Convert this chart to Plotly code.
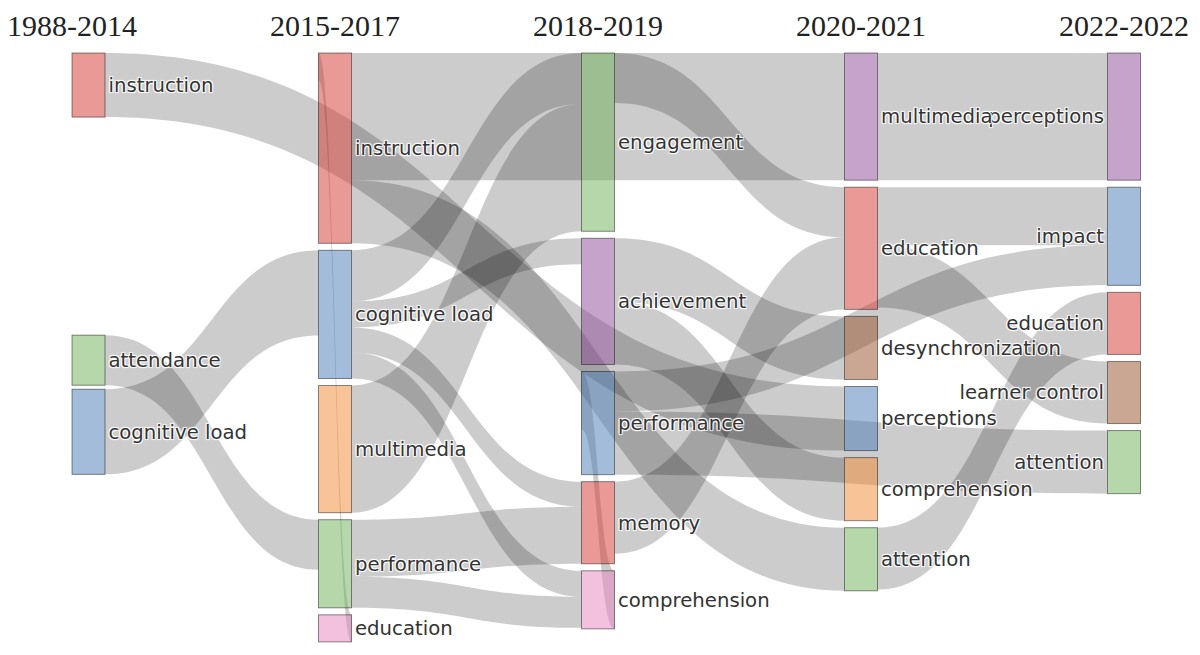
import plotly.graph_objects as go

# ==========================================
# DATA
# ==========================================

periods = ["1988-2014", "2015-2017", "2018-2019", "2020-2021", "2022-2022"]

labels = [
    "instruction", "attendance", "cognitive load",
    "instruction", "cognitive load", "multimedia", "performance", "education",
    "engagement", "achievement", "performance", "memory", "comprehension",
    "multimedia", "education", "desynchronization", "perceptions", "comprehension", "attention",
    "perceptions", "impact", "education", "learner control", "attention",
]
node_period = [0, 0, 0,
               1, 1, 1, 1, 1,
               2, 2, 2, 2, 2,
               3, 3, 3, 3, 3, 3,
               4, 4, 4, 4, 4]

source = [0, 1, 2, 7, 3, 3, 4, 4, 4, 4, 5, 6, 6, 12, 8, 11, 9, 9, 10, 10, 14, 14, 18, 13]
target = [16, 6, 4, 3, 13, 18, 8, 9, 11, 12, 8, 11, 12, 10, 14, 14, 15, 17, 20, 23, 20, 22, 21, 19]
value = [64, 50, 85, 27, 127, 63, 51, 26, 25, 26, 127, 57, 31, 58, 50, 72, 63, 63, 40, 63, 58, 62, 62, 127]

# ==========================================
# STYLE
# ==========================================

palette = {
    "red": "rgba(211,53,45,0.5)", "blue": "rgba(71,121,179,0.5)",
    "green": "rgba(107,175,83,0.5)", "purple": "rgba(139,71,151,0.5)",
    "orange": "rgba(239,135,47,0.5)", "brown": "rgba(147,79,39,0.5)",
    "pink": "rgba(229,131,187,0.5)",
}
node_color_names = [
    "red", "green", "blue",
    "red", "blue", "orange", "green", "pink",
    "green", "purple", "blue", "red", "pink",
    "purple", "red", "brown", "blue", "orange", "green",
    "purple", "blue", "red", "brown", "green",
]

FIG_W, FIG_H = 1200, 655
MARGIN = dict(l=64, r=84, t=0, b=0)
THICK = 33       # node thickness, px
PAD = 4          # node padding handed to plotly
GAP = 7          # gap between stacked nodes of one period, px
TOP = 45         # first node of each period starts this far below the top, px
PLOT_W = FIG_W - MARGIN["l"] - MARGIN["r"]
PLOT_H = FIG_H - MARGIN["t"] - MARGIN["b"]

# ==========================================
# LAYOUT HELPERS (same node scale as d3-sankey)
# ==========================================

n = len(labels)
v_in = [0] * n
v_out = [0] * n
outs = [[] for _ in range(n)]
for s, t, v in zip(source, target, value):
    v_out[s] += v
    v_in[t] += v
    outs[s].append(t)
size = [max(a, b) for a, b in zip(v_in, v_out)]

depth = [0] * n
current, level = list(range(n)), 0
while current:
    nxt = []
    for i in current:
        depth[i] = level
        for t in outs[i]:
            if t not in nxt:
                nxt.append(t)
    current, level = nxt, level + 1
layer = [depth[i] if outs[i] else level - 1 for i in range(n)]
cols = {}
for i in range(n):
    cols.setdefault(layer[i], []).append(i)
ky = min((PLOT_H - (len(c) - 1) * PAD) / sum(size[i] for i in c) for c in cols.values())

last = len(periods) - 1
node_x, node_y = [], []
col_top = {}
for i in range(n):
    p = node_period[i]
    h = size[i] * ky
    skips = all(node_period[t] > p + 1 for t in outs[i])
    if p == 0 and not skips:
        # first period, feeding the next one: plotly places these nodes itself
        node_x.append(0)
        node_y.append(0)
        continue
    top = col_top.get(p, TOP)
    col_top[p] = top + h + GAP
    x = p / last if p else THICK / 2 / PLOT_W
    node_x.append(x)
    node_y.append((top + h / 2) / PLOT_H)

# nodes are handed to plotly latest period first
order = sorted(range(n), key=lambda i: -node_period[i])
new_id = {old: k for k, old in enumerate(order)}

# ==========================================
# FIGURE
# ==========================================

fig = go.Figure(go.Sankey(
    arrangement="snap",
    node=dict(
        label=[labels[i] for i in order],
        color=[palette[node_color_names[i]] for i in order],
        x=[node_x[i] for i in order],
        y=[node_y[i] for i in order],
        pad=PAD,
        thickness=THICK,
        line=dict(color="rgba(0,0,0,0.45)", width=1),
    ),
    link=dict(
        source=[new_id[s] for s in source],
        target=[new_id[t] for t in target],
        value=value,
        color="rgba(0,0,0,0.2)",
    ),
    textfont=dict(family="DejaVu Sans", size=19.7, color="#333"),
    hoverinfo="none",
))

for k, p in enumerate(periods):
    fig.add_annotation(
        x=k / last, y=1, xref="paper", yref="paper",
        xanchor="center", yanchor="middle", yshift=-17,
        height=26, valign="middle",
        text=p, showarrow=False,
        font=dict(family="Liberation Serif", size=30, color="#222"),
    )

fig.update_layout(
    width=FIG_W, height=FIG_H,
    margin=MARGIN,
    paper_bgcolor="white",
)

fig.write_html("out.html")
